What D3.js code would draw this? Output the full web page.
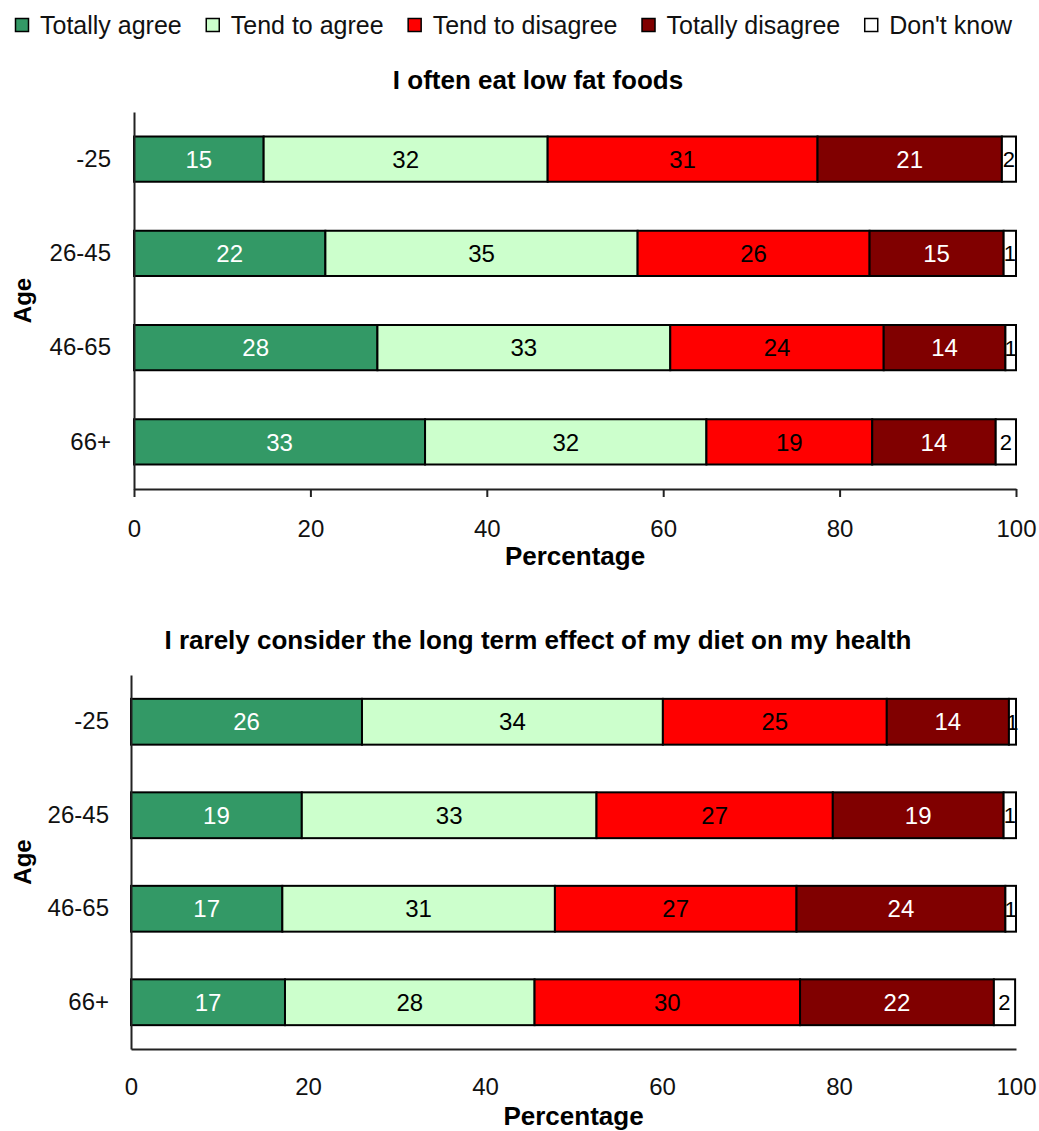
<!DOCTYPE html>
<html>
<head>
<meta charset="utf-8">
<script src="https://cdn.jsdelivr.net/npm/d3@7"></script>
<style>
    body { margin: 0; background: #fff; }
    svg { font-family: "Liberation Sans", Arial, sans-serif; }
    .barLabel { font-size: 24px; text-anchor: middle; }
    .title { font-size: 26px; font-weight: bold; text-anchor: middle; }
    .axisTitle { font-size: 26px; font-weight: bold; text-anchor: middle; }
</style>
</head>
<body>
<script>
// answer categories and age groups
const categories = ["Totally agree", "Tend to agree", "Tend to disagree", "Totally disagree", "Don't know"];
const ageGroups = ["-25", "26-45", "46-65", "66+"];
const xTicks = [0, 20, 40, 60, 80, 100];

// chart 1: I often eat low fat foods (one row per age group, in category order)
const lowFatTitle = "I often eat low fat foods";
const lowFatValues = [
    [14.7, 32.2, 30.6, 20.9, 1.6],
    [21.7, 35.4, 26.3, 15.2, 1.4],
    [27.6, 33.2, 24.2, 13.8, 1.2],
    [33.0, 31.9, 18.8, 14.0, 2.3]
];

// chart 2: I rarely consider the long term effect of my diet on my health
const dietTitle = "I rarely consider the long term effect of my diet on my health";
const dietValues = [
    [26.1, 34.0, 25.3, 13.8, 0.8],
    [19.3, 33.3, 26.7, 19.3, 1.4],
    [17.1, 30.8, 27.3, 23.6, 1.2],
    [17.4, 28.2, 30.0, 21.9, 2.4]
];

const colors = ["#339966", "#ccffcc", "#ff0000", "#800000", "#ffffff"];
const labelColors = ["#fff", "#000", "#000", "#fff", "#000"];

let svg = d3.select("body").append("svg")
    .attr("width", 1039)
    .attr("height", 1131);

// legend across the top
let legend = svg.append("g").attr("class", "legend");
let lx = 15;
categories.forEach(function(c, i) {
    legend.append("rect")
        .attr("x", lx + 0.5).attr("y", 18.5)
        .attr("width", 13).attr("height", 13)
        .attr("fill", colors[i])
        .attr("stroke", "#000")
        .attr("stroke-width", 1.5);
    let t = legend.append("text")
        .attr("x", lx + 25)
        .attr("y", 34)
        .style("font-size", "25px")
        .style("fill", "#111")
        .text(c);
    lx = lx + 25 + t.node().getComputedTextLength() + 24;
});

function drawPanel(title, values, opt) {
    let x = d3.scaleLinear()
        .domain([0, 100])
        .range([opt.left, opt.right]);

    let y = d3.scaleBand()
        .domain(ageGroups)
        .range([opt.top, opt.bottom])
        .paddingInner(opt.pad)
        .paddingOuter(opt.pad / 2);

    let g = svg.append("g");

    g.append("text")
        .attr("class", "title")
        .attr("x", 538)
        .attr("y", opt.titleY)
        .text(title);

    // stack each row
    let rows = values.map(function(v, r) {
        let acc = 0;
        return v.map(function(d, i) {
            let s = { age: ageGroups[r], cat: i, x0: acc, x1: acc + d, v: d };
            acc += d;
            return s;
        });
    });
    let segs = rows.flat();

    g.selectAll("rect.seg")
        .data(segs)
        .enter().append("rect")
        .attr("class", "seg")
        .attr("x", d => x(d.x0))
        .attr("y", d => y(d.age))
        .attr("width", d => x(d.x1) - x(d.x0))
        .attr("height", y.bandwidth())
        .attr("fill", d => colors[d.cat])
        .attr("stroke", "#000")
        .attr("stroke-width", 2);

    g.selectAll("text.barLabel")
        .data(segs)
        .enter().append("text")
        .attr("class", "barLabel")
        .attr("x", d => (x(d.x0) + x(d.x1)) / 2)
        .attr("y", d => y(d.age) + y.bandwidth() / 2)
        .attr("dy", "0.36em")
        .style("fill", d => labelColors[d.cat])
        .style("font-size", d => d.cat == 4 ? "22px" : "24px")
        .text(d => Math.round(d.v));

    let xAxis = d3.axisBottom(x)
        .tickValues(xTicks)
        .tickSize(opt.tickSize)
        .tickSizeOuter(0)
        .tickPadding(opt.tickPad);

    let yAxis = d3.axisLeft(y)
        .tickSize(0)
        .tickPadding(opt.yPad);

    let xa = g.append("g")
        .attr("transform", "translate(0," + opt.bottom + ")")
        .call(xAxis);
    let ya = g.append("g")
        .attr("transform", "translate(" + opt.left + ",0)")
        .call(yAxis);

    [xa, ya].forEach(function(a) {
        a.selectAll("path, line").attr("stroke", "#222").attr("stroke-width", 2);
        a.selectAll("text")
            .style("font-family", "'Liberation Sans', Arial, sans-serif")
            .style("font-size", "24px")
            .style("fill", "#111");
    });

    g.append("text")
        .attr("class", "axisTitle")
        .attr("x", (opt.left + opt.right) / 2)
        .attr("y", opt.xTitleY)
        .text("Percentage");

    g.append("text")
        .attr("class", "axisTitle")
        .attr("transform", "rotate(-90)")
        .attr("x", -(opt.top + opt.bottom) / 2)
        .attr("y", 31)
        .style("font-size", "24px")
        .text("Age");
}

drawPanel(lowFatTitle, lowFatValues, {
    left: 134, right: 1016, top: 112, bottom: 489, pad: 0.52,
    tickSize: 8, tickPad: 23, yPad: 23, titleY: 89, xTitleY: 565
});

drawPanel(dietTitle, dietValues, {
    left: 131, right: 1016, top: 675, bottom: 1049, pad: 0.51,
    tickSize: 0, tickPad: 29, yPad: 22, titleY: 649, xTitleY: 1125
});
</script>
</body>
</html>
